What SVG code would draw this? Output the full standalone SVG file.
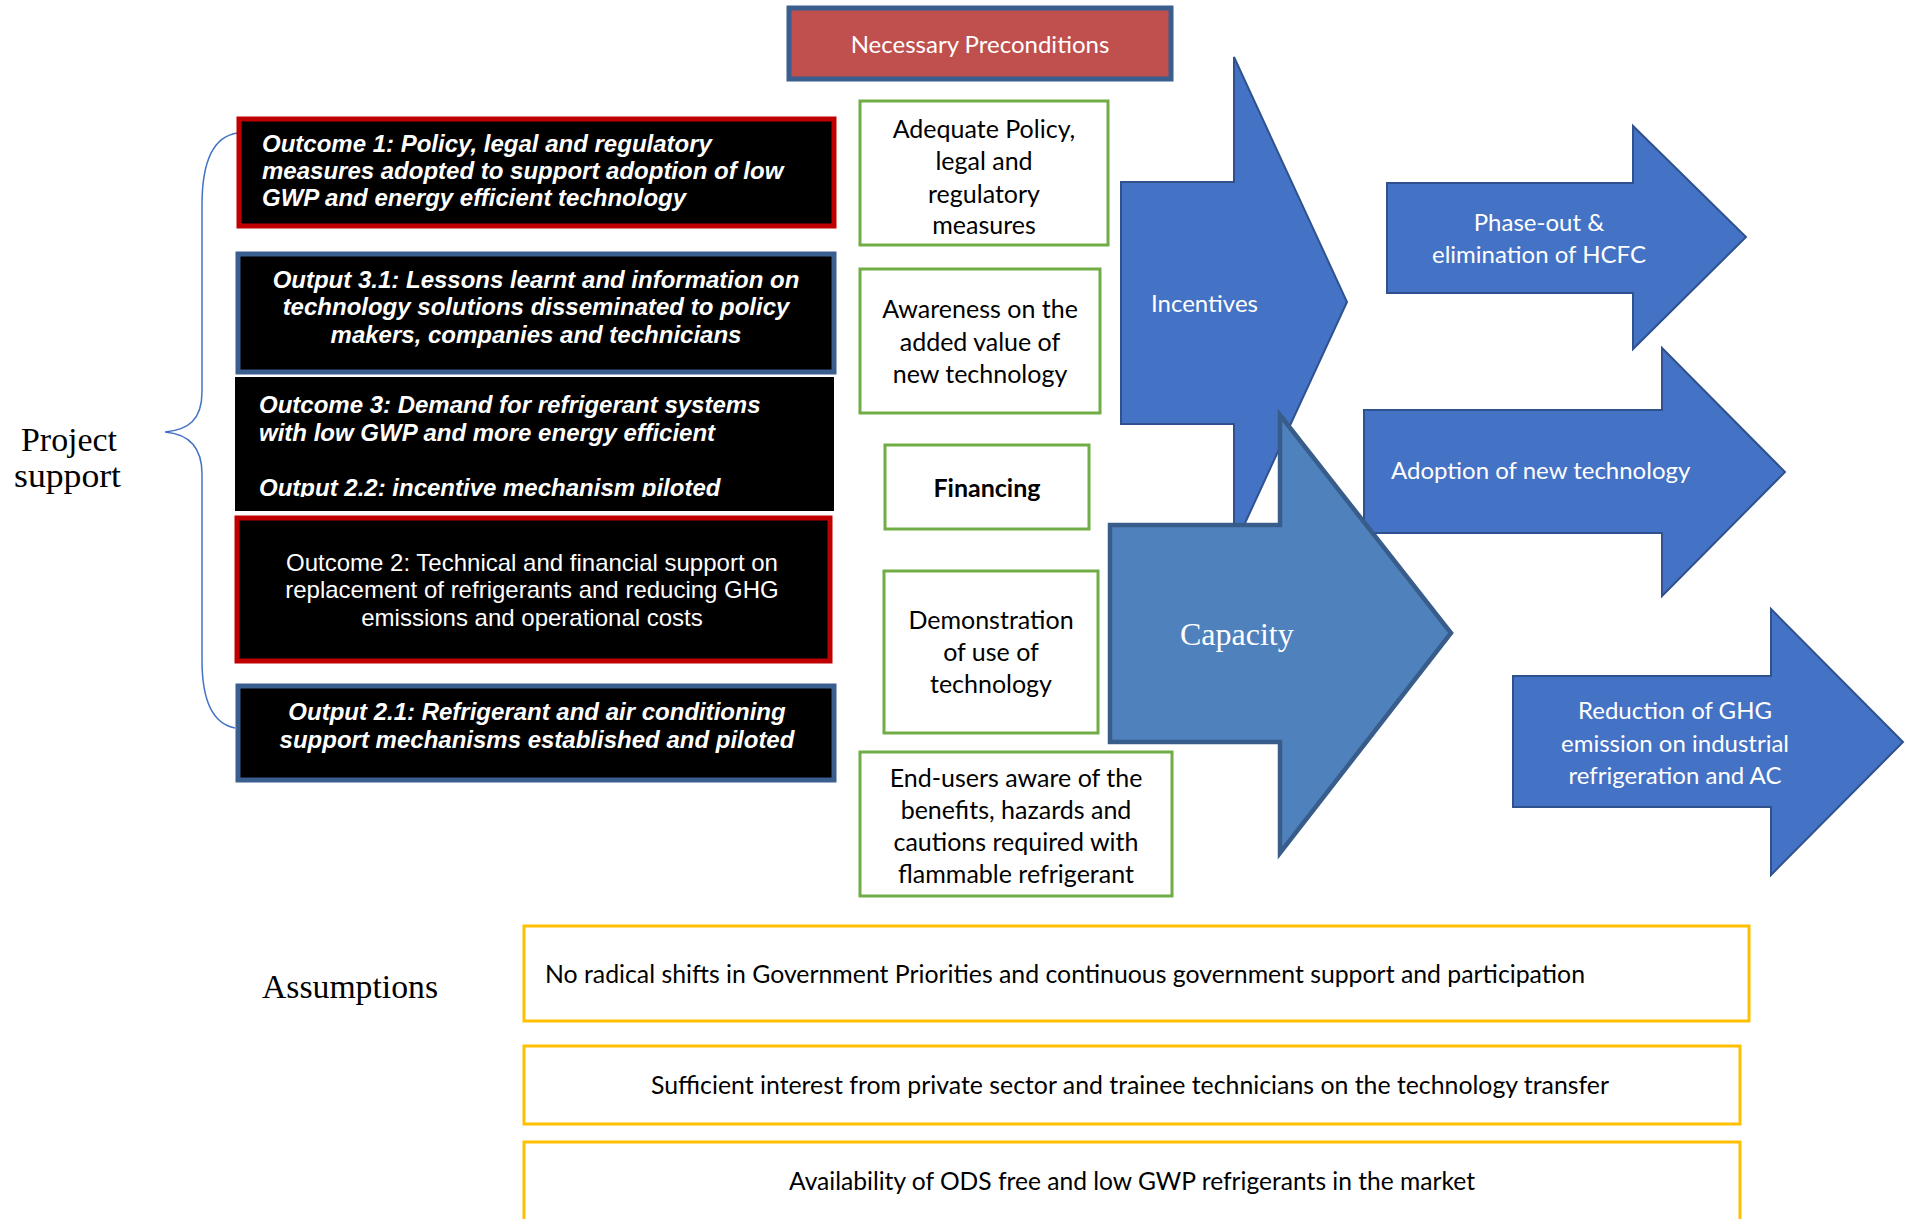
<svg xmlns="http://www.w3.org/2000/svg" width="1908" height="1219" viewBox="0 0 1908 1219">
<style>
.ar{font-family:"Liberation Sans",Arial,sans-serif;fill:#fff;font-size:24px}
.bi{font-weight:bold;font-style:italic}
.cal{font-family:Lato,"Open Sans",sans-serif;font-size:25px;fill:#000}
.calw{font-family:Lato,"Open Sans",sans-serif;font-size:24px;fill:#fff}
.ser{font-family:"Liberation Serif","Times New Roman",serif;fill:#000}
.blk{fill:#000}
.red{stroke:#C00000;stroke-width:5}
.blu{stroke:#3A5F8F;stroke-width:5}
.grn{fill:#fff;stroke:#70AD47;stroke-width:3}
.yel{fill:#fff;stroke:#FFC000;stroke-width:3}
.arw{fill:#4472C4;stroke:#2F528F;stroke-width:2}
.cap{fill:#4F81BD;stroke:#385D8A;stroke-width:4.5}
.mid{text-anchor:middle}
</style>
<defs>
<clipPath id="clip3"><rect x="235" y="377" width="600" height="120"/></clipPath>
</defs>

<g id="connectors">
<path d="M238,133 C214,136 202,160 202,205 L202,392 C202,420 188,430 165,432 C188,434 202,446 202,474 L202,660 C202,702 214,724 235,728" fill="none" stroke="#4472C4" stroke-width="1.5"/>
</g>

<g id="project-support">
<text class="ser" x="21" y="451" font-size="33" textLength="96" lengthAdjust="spacingAndGlyphs">Project</text>
<text class="ser" x="14" y="487" font-size="33" textLength="107" lengthAdjust="spacingAndGlyphs">support</text>
</g>

<g id="necessary-preconditions">
<rect x="789" y="8" width="382" height="71" fill="#C0504D" stroke="#3A5F8F" stroke-width="5"/>
<text class="calw mid" x="980" y="53" font-size="23">Necessary Preconditions</text>
</g>

<g id="outcome1">
<rect x="239" y="119" width="595" height="107" class="blk red"/>
<text class="ar bi" x="262" y="152">Outcome 1: Policy, legal and regulatory</text>
<text class="ar bi" x="262" y="179">measures adopted to support adoption of low</text>
<text class="ar bi" x="262" y="206">GWP and energy efficient technology</text>
</g>

<g id="output31">
<rect x="238" y="254" width="596" height="118" class="blk blu"/>
<text class="ar bi mid" x="536" y="288">Output 3.1: Lessons learnt and information on</text>
<text class="ar bi mid" x="536" y="315">technology solutions disseminated to policy</text>
<text class="ar bi mid" x="536" y="343">makers, companies and technicians</text>
</g>

<g id="outcome3">
<rect x="235" y="377" width="599" height="134" class="blk"/>
<g clip-path="url(#clip3)">
<text class="ar bi" x="259" y="413">Outcome 3: Demand for refrigerant systems</text>
<text class="ar bi" x="259" y="441">with low GWP and more energy efficient</text>
<text class="ar bi" x="259" y="496">Output 2.2: incentive mechanism piloted</text>
</g>
</g>

<g id="outcome2">
<rect x="237" y="518" width="593" height="143" class="blk red"/>
<text class="ar mid" x="532" y="571">Outcome 2: Technical and financial support on</text>
<text class="ar mid" x="532" y="598">replacement of refrigerants and reducing GHG</text>
<text class="ar mid" x="532" y="626">emissions and operational costs</text>
</g>

<g id="output21">
<rect x="238" y="686" width="596" height="94" class="blk blu"/>
<text class="ar bi mid" x="537" y="720">Output 2.1: Refrigerant and air conditioning</text>
<text class="ar bi mid" x="537" y="748">support mechanisms established and piloted</text>
</g>

<g id="pre-policy">
<rect x="860" y="101" width="248" height="144" class="grn"/>
<text class="cal mid" x="984" y="138">Adequate Policy,</text>
<text class="cal mid" x="984" y="170">legal and</text>
<text class="cal mid" x="984" y="203">regulatory</text>
<text class="cal mid" x="984" y="234">measures</text>
</g>

<g id="pre-awareness">
<rect x="860" y="269" width="240" height="144" class="grn"/>
<text class="cal mid" x="980" y="318">Awareness on the</text>
<text class="cal mid" x="980" y="351">added value of</text>
<text class="cal mid" x="980" y="383">new technology</text>
</g>

<g id="pre-financing">
<rect x="885" y="445" width="204" height="84" class="grn"/>
<text class="cal mid" x="987" y="497" font-weight="bold">Financing</text>
</g>

<g id="pre-demonstration">
<rect x="884" y="571" width="214" height="162" class="grn"/>
<text class="cal mid" x="991" y="629">Demonstration</text>
<text class="cal mid" x="991" y="661">of use of</text>
<text class="cal mid" x="991" y="693">technology</text>
</g>

<g id="pre-endusers">
<rect x="860" y="752" width="312" height="144" class="grn"/>
<text class="cal mid" x="1016" y="787">End-users aware of the</text>
<text class="cal mid" x="1016" y="819">benefits, hazards and</text>
<text class="cal mid" x="1016" y="851">cautions required with</text>
<text class="cal mid" x="1016" y="883">flammable refrigerant</text>
</g>

<g id="incentives">
<path d="M1121,182 L1234,182 L1234,57 L1347,302 L1234,547 L1234,424 L1121,424 Z" class="arw"/>
<text class="calw" x="1151" y="312">Incentives</text>
</g>

<g id="phase-out">
<path d="M1387,183 L1633,183 L1633,126 L1746,237 L1633,349 L1633,293 L1387,293 Z" class="arw"/>
<text class="calw mid" x="1539" y="231">Phase-out &amp;</text>
<text class="calw mid" x="1539" y="263">elimination of HCFC</text>
</g>

<g id="adoption">
<path d="M1364,410 L1662,410 L1662,348 L1785,472 L1662,596 L1662,533 L1364,533 Z" class="arw"/>
<text class="calw" x="1391" y="479">Adoption of new technology</text>
</g>

<g id="capacity">
<path d="M1110,525 L1280,525 L1280,415 L1451,633 L1280,853 L1280,742 L1110,742 Z" class="cap"/>
<text class="ser" x="1180" y="645" font-size="32" style="fill:#fff">Capacity</text>
</g>

<g id="reduction">
<path d="M1513,676 L1771,676 L1771,609 L1903,742 L1771,875 L1771,807 L1513,807 Z" class="arw"/>
<text class="calw mid" x="1675" y="719">Reduction of GHG</text>
<text class="calw mid" x="1675" y="752">emission on industrial</text>
<text class="calw mid" x="1675" y="784">refrigeration and AC</text>
</g>

<g id="assumptions-label">
<text class="ser" x="262" y="998" font-size="33" textLength="176" lengthAdjust="spacingAndGlyphs">Assumptions</text>
</g>

<g id="assumption1">
<rect x="524" y="926" width="1225" height="95" class="yel"/>
<text class="cal" x="545" y="983" font-size="24" textLength="1040" lengthAdjust="spacingAndGlyphs">No radical shifts in Government Priorities and continuous government support and participation</text>
</g>

<g id="assumption2">
<rect x="524" y="1046" width="1216" height="78" class="yel"/>
<text class="cal" x="651" y="1094" font-size="24" textLength="958" lengthAdjust="spacingAndGlyphs">Sufficient interest from private sector and trainee technicians on the technology transfer</text>
</g>

<g id="assumption3">
<rect x="524" y="1142" width="1216" height="90" class="yel"/>
<text class="cal" x="789" y="1190" font-size="24" textLength="686" lengthAdjust="spacingAndGlyphs">Availability of ODS free and low GWP refrigerants in the market</text>
</g>
</svg>
